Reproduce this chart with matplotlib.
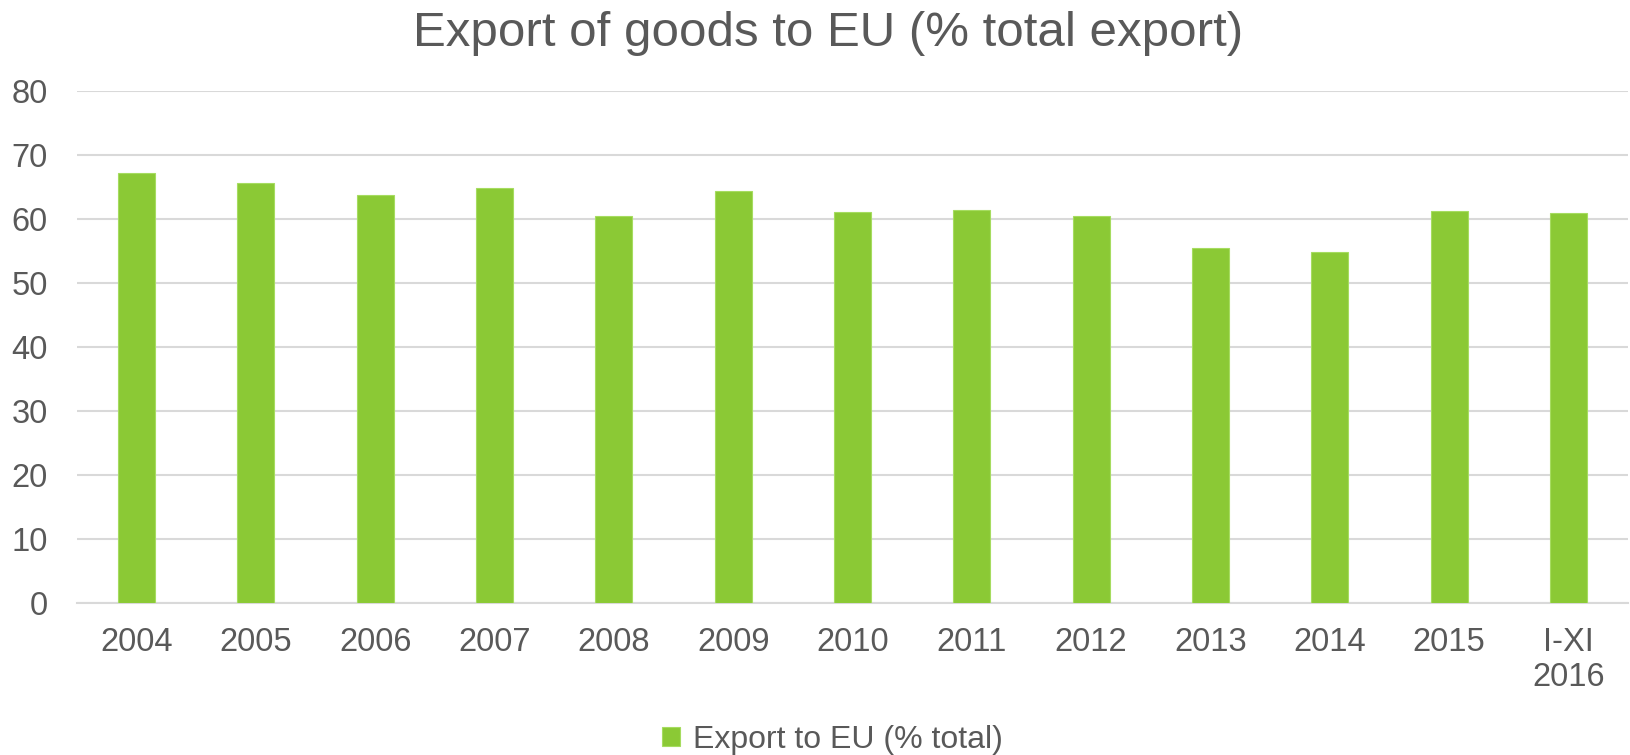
import matplotlib.pyplot as plt

plt.rcParams['font.family'] = ['Liberation Sans', 'DejaVu Sans']

# Доля экспорта в ЕС по годам
years = ['2004', '2005', '2006', '2007', '2008', '2009', '2010',
         '2011', '2012', '2013', '2014', '2015', 'I-XI\n2016']
export_eu = [67.2, 65.7, 63.7, 64.9, 60.4, 64.4, 61.1,
             61.4, 60.4, 55.5, 54.8, 61.3, 60.9]

text_color = '#595959'
bar_color = '#8BC935'
grid_color = '#D9D9D9'

fig = plt.figure(figsize=(16.3, 7.55), dpi=100)
ax = fig.add_axes([77 / 1630, 1 - 603 / 755, 1551 / 1630, 512 / 755])

x = range(len(years))
ax.bar(x, export_eu, width=0.31, color=bar_color, edgecolor='#A6DC60',
       linewidth=0.8, label='Export to EU (% total)', zorder=3)

ax.set_xlim(-0.5, len(years) - 0.5)
ax.set_ylim(0, 80)
ax.set_yticks(range(0, 81, 10))
ax.set_xticks(list(x))
ax.set_xticklabels(years)

ax.grid(axis='y', color=grid_color, linewidth=1.5, zorder=0)
for side in ['top', 'right', 'left']:
    ax.spines[side].set_visible(False)
ax.spines['bottom'].set_color(grid_color)
ax.spines['bottom'].set_linewidth(1.5)

ax.tick_params(axis='both', length=0, labelsize=23.5, labelcolor=text_color)
ax.tick_params(axis='x', pad=17)
ax.tick_params(axis='y', pad=21)

fig.text(0.5078, 1 - 46 / 755, 'Export of goods to EU (% total export)',
         ha='center', va='baseline', fontsize=35.5, color=text_color)

fig.legend(loc='center', bbox_to_anchor=(0.5107, 1 - 740 / 755), frameon=False,
           fontsize=23, labelcolor=text_color, handlelength=0.55,
           handleheight=0.55, handletextpad=0.4)

plt.savefig('out.png', dpi=100)
